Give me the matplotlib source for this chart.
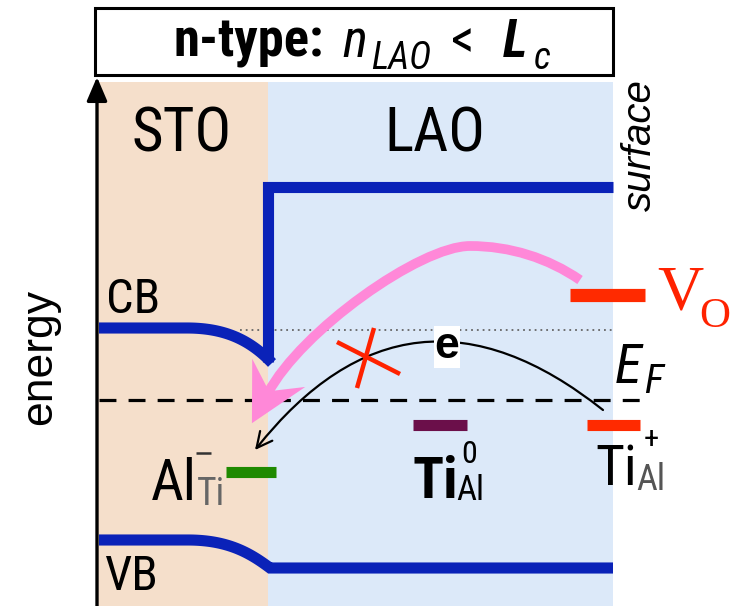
import numpy as np
import matplotlib.pyplot as plt
from matplotlib.patches import Rectangle, FancyArrowPatch, PathPatch, Polygon
from matplotlib.path import Path

NARROW = ['Roboto Condensed', 'Liberation Sans']
SANS = ['Liberation Sans']
SERIF = ['Liberation Serif']

# layout in px units: x across the stack, y = energy (down is lower energy)
x_axis = 97
x_left, x_iface, x_surf = 99, 268, 613
y_top, y_bot = 82, 606

# band edges: flat parts + bezier control points for the bending near the interface
cb_sto_flat = [99, 187]
cb_sto_y = 328
cb_bend = [(187, 328), (225, 328), (250, 340), (272, 363)]
cb_lao_x = [268, 268, 613]
cb_lao_y = [362, 187, 187]

vb_sto_flat = [99, 188]
vb_sto_y = 540
vb_bend = [(188, 540), (228, 540), (250, 553), (270, 568)]
vb_lao_x = [270, 613]
vb_lao_y = [568, 568]

y_fermi = 400
fermi_x = [99, 647]
y_cb_ref = 330
cb_ref_x = [240, 613]

# defect levels
level_names = ['VO', 'TiAl+', 'TiAl0', 'AlTi-']
level_x0 = [570, 587, 413, 226]
level_x1 = [645, 640, 467, 276]
level_y = [295, 425, 425, 472]
level_colors = ['#ff2a00', '#ff2a00', '#6b0f4a', '#1f8a00']
level_lw = [9.5, 8, 8, 8]

# electron transfer arc (Ti_Al -> Al_Ti)
arc_start = (603, 410)
arc_end = (255, 450)
arc_rad = 0.5

# forbidden mark on the arc
cross_a = ([337, 400], [342, 374])
cross_b = ([374, 357], [328, 388])

# V_O transfer arrow: two cubic segments, ends at the arrow-head notch
pink_pts = [(580, 280), (548, 258), (510, 246), (470, 246),
            (420, 246), (301, 331), (268, 393)]
pink_head_len = 57
pink_head_width = 60

blue = '#0a22b8'
pink = '#ff88d8'


def bezier(pts, n=60):
    p = np.array(pts, dtype=float)
    t = np.linspace(0, 1, n)[:, None]
    return ((1 - t) ** 3 * p[0] + 3 * t * (1 - t) ** 2 * p[1]
            + 3 * t ** 2 * (1 - t) * p[2] + t ** 3 * p[3])


fig = plt.figure(figsize=(7.42, 6.06), dpi=100)
ax = fig.add_axes([0, 0, 1, 1])
ax.set_xlim(0, 742)
ax.set_ylim(606, 0)
ax.axis('off')

# STO / LAO regions
ax.add_patch(Rectangle((x_axis, y_top), x_iface - x_axis, y_bot - y_top,
                       fc='#f5dfcb', ec='none', zorder=0))
ax.add_patch(Rectangle((x_iface, y_top), x_surf - x_iface, y_bot - y_top,
                       fc='#dce9f9', ec='none', zorder=0))

# title box: n-type: n_LAO < L_c
ax.add_patch(Rectangle((95, 8), 518, 67, fc='white', ec='black', lw=2.2, zorder=3))
title_kw = dict(family=NARROW, va='baseline', zorder=4)
ax.text(174, 57, 'n-type:', fontsize=38, fontweight='bold', **title_kw)
ax.text(342, 57, 'n', fontsize=38, style='italic', **title_kw)
ax.text(371, 69, 'LAO', fontsize=27, style='italic', **title_kw)
ax.text(451, 57, '<', fontsize=38, **title_kw)
ax.text(503, 57, 'L', fontsize=38, style='italic', fontweight='bold', **title_kw)
ax.text(534, 69, 'c', fontsize=27, style='italic', **title_kw)

# energy axis
ax.add_patch(FancyArrowPatch((x_axis, y_bot), (x_axis, 77),
                             arrowstyle='-|>,head_length=1.45,head_width=0.62',
                             mutation_scale=10, lw=2.4, color='black',
                             shrinkA=0, shrinkB=0, zorder=5))
ax.text(40, 357, 'energy', rotation=90, fontsize=32, family=SANS,
        ha='center', va='center')
ax.text(640, 145, 'surface', rotation=90, fontsize=29, family=SANS,
        style='italic', ha='center', va='center')

ax.text(182, 152, 'STO', fontsize=44, family=NARROW, ha='center', va='baseline')
ax.text(435, 152, 'LAO', fontsize=44, family=NARROW, ha='center', va='baseline')

# reference lines
ax.plot(cb_ref_x, [y_cb_ref, y_cb_ref], color='#666666', lw=1.3,
        ls=(0, (1, 2.2)), zorder=1)
ax.plot(fermi_x, [y_fermi, y_fermi], color='black', lw=2.3,
        ls=(0, (5.3, 3.8)), zorder=2)

# bands
band_kw = dict(color=blue, lw=8, solid_capstyle='butt', solid_joinstyle='miter', zorder=3)
cb_curve = bezier(cb_bend)
ax.plot(np.r_[cb_sto_flat, cb_curve[:, 0]],
        np.r_[[cb_sto_y, cb_sto_y], cb_curve[:, 1]], **band_kw)
ax.plot(cb_lao_x, cb_lao_y, **band_kw)
vb_curve = bezier(vb_bend)
ax.plot(np.r_[vb_sto_flat, vb_curve[:, 0], vb_lao_x],
        np.r_[[vb_sto_y, vb_sto_y], vb_curve[:, 1], vb_lao_y], **band_kw)
ax.text(106, 313, 'CB', fontsize=35, family=NARROW, ha='left', va='baseline')
ax.text(105, 590, 'VB', fontsize=35, family=NARROW, ha='left', va='baseline')

# defect levels
for x0, x1, y, c, lw in zip(level_x0, level_x1, level_y, level_colors, level_lw):
    ax.plot([x0, x1], [y, y], color=c, lw=lw, solid_capstyle='butt', zorder=4)

# level labels
ax.text(657, 310, 'V', fontsize=46, family=SERIF, color='#ff2200', va='baseline')
ax.text(699, 327, 'O', fontsize=31, family=SERIF, color='#ff2200', va='baseline')

ax.text(615, 383, 'E', fontsize=40, family=NARROW, style='italic', va='baseline')
ax.text(644, 393, 'F', fontsize=29, family=NARROW, style='italic', va='baseline')

ax.text(412, 498, 'Ti', fontsize=41, family=NARROW, fontweight='bold', va='baseline')
ax.text(456, 500, 'Al', fontsize=25, family=NARROW, va='baseline')
ax.text(461, 463, '0', fontsize=23, family=NARROW, va='baseline')

ax.text(595, 485, 'Ti', fontsize=40, family=NARROW, va='baseline')
ax.text(636, 490, 'Al', fontsize=26, family=NARROW, color='#555555', va='baseline')
ax.text(651, 439, '+', fontsize=22, family=NARROW, ha='center', va='center')

ax.text(151, 500, 'Al', fontsize=41, family=NARROW, va='baseline')
ax.text(197, 505, 'Ti', fontsize=27, family=NARROW, color='#666666', va='baseline')
ax.plot([196, 211], [453, 453], color='#333333', lw=1.8, solid_capstyle='butt')

# electron transfer arc with the e label
ax.add_patch(FancyArrowPatch(arc_start, arc_end, connectionstyle=f'arc3,rad={arc_rad}',
                             arrowstyle='->,head_length=0.8,head_width=0.4',
                             mutation_scale=14, lw=1.6, color='black',
                             shrinkA=0, shrinkB=0, zorder=5))
ax.text(447, 347, 'e', fontsize=32, fontweight='bold', family=SANS,
        ha='center', va='center', zorder=6,
        bbox=dict(fc='white', ec='none', pad=0.5))
ax.plot(*cross_a, color='#ff2200', lw=3.2, solid_capstyle='butt', zorder=7)
ax.plot(*cross_b, color='#ff2200', lw=3.2, solid_capstyle='butt', zorder=7)

# V_O transfer arrow
codes = [Path.MOVETO] + [Path.CURVE4] * 6
ax.add_patch(PathPatch(Path(pink_pts, codes), fc='none', ec=pink, lw=7,
                       capstyle='butt', zorder=8))
end = np.array(pink_pts[-1], float)
u = end - np.array(pink_pts[-2], float)
u /= np.hypot(*u)
perp = np.array([-u[1], u[0]])
tip = end + u * 0.6 * pink_head_len
back = tip - u * pink_head_len
head = [tip, back + perp * pink_head_width / 2, end - u * 2,
        back - perp * pink_head_width / 2]
ax.add_patch(Polygon(head, closed=True, fc=pink, ec='none', zorder=8))

fig.savefig('out.png', dpi=100)
